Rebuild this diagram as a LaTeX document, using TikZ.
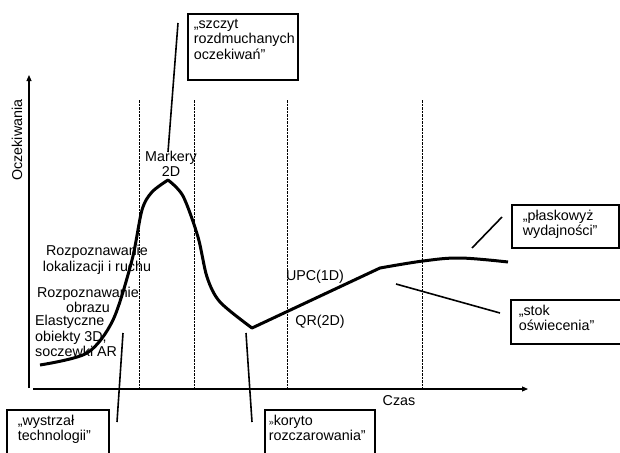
\documentclass[tikz,border=0pt]{standalone}
\usepackage{fontspec}
\setmainfont{Liberation Sans}
\usetikzlibrary{arrows.meta}

% text inside a callout box: height, width, lines
\newcommand{\boxtext}[3]{\parbox[t][#1][t]{#2}{\raggedright #3}}

\begin{document}
\begin{tikzpicture}[x=1pt, y=-1pt,
  every node/.style={font=\fontsize{14.3}{15.5}\selectfont},
  phase/.style={dash pattern=on 2.5pt off 1pt, line width=0.7pt},
  axis/.style={line width=1.1pt, -{Triangle[length=6pt,width=5pt]}},
  hype/.style={line width=3pt, line join=round},
  pointer/.style={line width=1.6pt},
  callout/.style={draw, line width=1.6pt, anchor=north west, inner ysep=5pt, align=left}]

  \useasboundingbox (0,0) rectangle (620,452);
  \clip (0,0) rectangle (620,452);

  % Axes
  \draw[axis] (29,388) -- (29,75);
  \draw[axis] (33,389) -- (528,389);
  \node[rotate=90] (ylabel) at (17,140) {Oczekiwania};
  \node (xlabel) at (399,401) {Czas};

  % Phase borders
  \foreach \x in {139,194,287,422}
    \draw[phase] (\x,100) -- (\x,389);

  % Hype curve
  \draw[hype] plot[smooth, tension=0.5] coordinates {(40,365) (87,353) (113,320) (132,260) (142,210) (152,192) (168,180)}
    -- plot[smooth, tension=0.5] coordinates {(168,180) (183,196) (198,237) (207,277) (220,302) (252,328)}
    -- (380,268)
    -- plot[smooth, tension=0.6] coordinates {(380,268) (423,261) (460,258) (508,262)};

  % Technologies on the curve
  \node[align=center] (markery) at (171,164) {Markery\\2D};
  \node[align=center] (ruch) at (97,260) {Rozpoznawanie\\lokalizacji i ruchu};
  \node[align=center] (obraz) at (88,300) {Rozpoznawanie\\obrazu};
  \node[align=left, anchor=west, inner sep=0pt] (elast) at (35,336) {Elastyczne\\obiekty 3D,\\soczewki AR};
  \node (upc) at (315,277) {UPC(1D)};
  \node (qr) at (320,322) {QR(2D)};

  % Callout boxes
  \node[callout, inner xsep=6pt] (szczyt) at (187,13)
    {\boxtext{56pt}{98pt}{„szczyt\\rozdmuchanych\\oczekiwań”}};
  \node[callout, inner xsep=11pt] (wystrzal) at (6,409)
    {\boxtext{60pt}{80pt}{„wystrzał\\technologii”}};
  \node[callout, inner xsep=4pt] (koryto) at (264,409)
    {\boxtext{60pt}{102pt}{{\small»}koryto\\rozczarowania”}};
  \node[callout, inner xsep=8pt] (stok) at (510,299)
    {\boxtext{34pt}{120pt}{„stok\\oświecenia”}};
  \node[callout, inner xsep=11pt] (plaskowyz) at (511,204)
    {\boxtext{33pt}{85pt}{„płaskowyż\\wydajności”}};

  % Pointers
  \coordinate (szczyt-a) at (178,23);
  \coordinate (szczyt-b) at (168,152);
  \coordinate (wystrzal-a) at (117,422);
  \coordinate (wystrzal-b) at (123,333);
  \coordinate (koryto-a) at (252,422);
  \coordinate (koryto-b) at (246,333);
  \coordinate (stok-a) at (500,313);
  \coordinate (stok-b) at (396,284);
  \coordinate (plaskowyz-a) at (502,217);
  \coordinate (plaskowyz-b) at (472,248);
  \draw[pointer] (szczyt-a) -- (szczyt-b);
  \draw[pointer] (wystrzal-a) -- (wystrzal-b);
  \draw[pointer] (koryto-a) -- (koryto-b);
  \draw[pointer] (stok-a) -- (stok-b);
  \draw[pointer] (plaskowyz-a) -- (plaskowyz-b);
\end{tikzpicture}
\end{document}
